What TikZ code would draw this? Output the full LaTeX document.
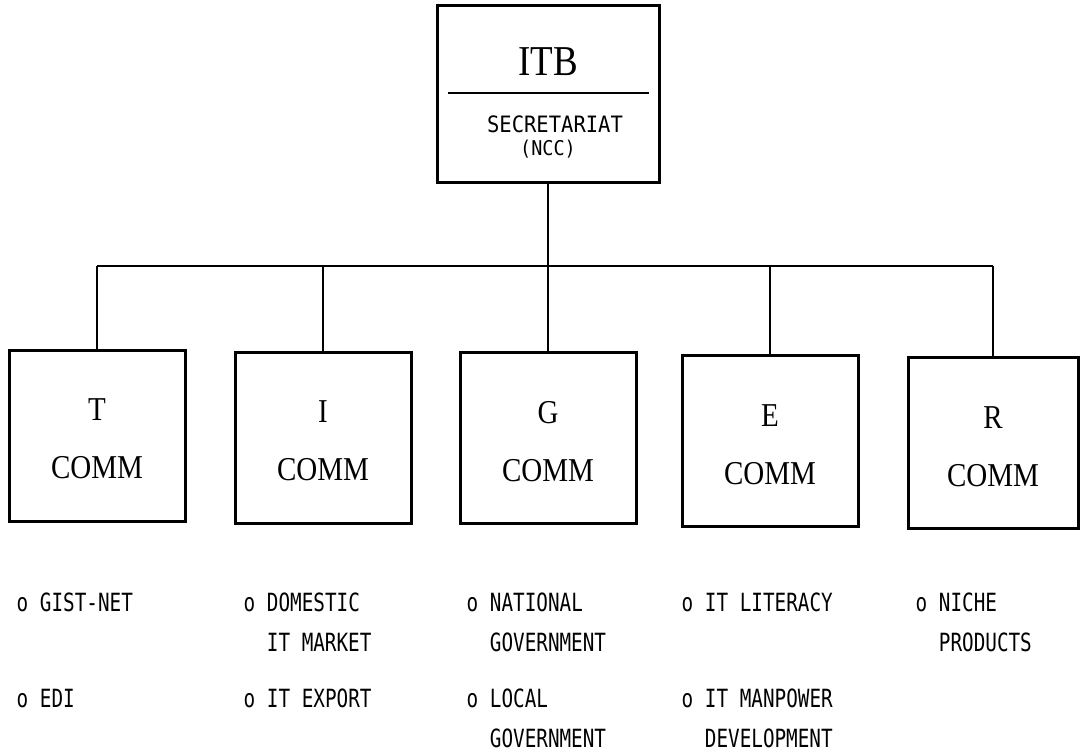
\documentclass[tikz,border=0pt]{standalone}
\usepackage{fontspec}
\usepackage{graphicx}
\setmainfont{Liberation Serif}
\newfontfamily\typefont{DejaVu Sans Mono}

% tall, narrow lettering used throughout the chart
\newcommand\tallser[1]{\scalebox{1}[1.15]{#1}}
\newcommand\talltype[1]{\scalebox{1}[1.3]{#1}}

\tikzset{
  frame/.style={draw, line width=3pt, inner sep=0pt},
  comm/.style={frame, minimum width=176pt, minimum height=171pt},
  link/.style={line width=2pt},
  serif/.style={anchor=base, inner sep=0pt, font=\fontsize{29}{29}\selectfont},
  item/.style={anchor=base west, inner sep=0pt, font=\typefont\fontsize{19.3}{20}\selectfont},
  secr/.style={anchor=base, inner sep=0pt, font=\typefont\fontsize{20.5}{21}\selectfont},
}

\begin{document}
\begin{tikzpicture}[x=1pt, y=-1pt]
\useasboundingbox (0,0) rectangle (1081,755);

% ---- board ----
\node[frame, minimum width=222pt, minimum height=177pt] (itb) at (548,93.5) {};
\node[anchor=base, inner sep=0pt, font=\fontsize{37}{37}\selectfont] (itbname) at (548,75) {\tallser{ITB}};
\coordinate (divL) at (448,93);
\coordinate (divR) at (649,93);
\draw[link] (divL) -- (divR);
\node[secr] (secname) at (555,132) {\scalebox{1}[1.1]{SECRETARIAT}};
\node[secr, font=\typefont\fontsize{18.5}{19}\selectfont] (ncc) at (548,155) {\scalebox{1}[1.1]{(NCC)}};

% ---- committees ----
\node[comm] (T) at (97,435.5) {};
\node[comm] (I) at (323,437.5) {};
\node[comm] (G) at (548,438) {};
\node[comm] (E) at (770,441) {};
\node[comm, minimum width=170pt] (R) at (993,443) {};

\foreach \n/\l in {T/T, I/I, G/G, E/E, R/R}{
  \node[serif] (\n let) at ([yshift=-72pt]\n.north) {\tallser{\l}};
  \node[serif] (\n word) at ([yshift=-130pt]\n.north) {\tallser{COMM}};
}

% ---- connectors ----
\coordinate (busL) at (97,266);
\coordinate (busR) at (993,266);
\draw[link] (busL) -- (busR);
\draw[link] (itb.south) -- (G.north);
\foreach \n in {T, I, E, R}{
  \draw[link] (\n.north) -- (\n.north |- busL);
}

% ---- duties of each committee ----
% T
\node[item] (t1) at (16.5,611) {\talltype{o GIST-NET}};
\node[item] (t2) at (16.5,707) {\talltype{o EDI}};
% I
\node[item] (i1) at (243.5,611) {\talltype{o DOMESTIC}};
\node[item] (i1b) at (266.7,651) {\talltype{IT MARKET}};
\node[item] (i2) at (243.5,707) {\talltype{o IT EXPORT}};
% G
\node[item] (g1) at (466.5,611) {\talltype{o NATIONAL}};
\node[item] (g1b) at (489.7,651) {\talltype{GOVERNMENT}};
\node[item] (g2) at (466.5,707) {\talltype{o LOCAL}};
\node[item] (g2b) at (489.7,747) {\talltype{GOVERNMENT}};
% E
\node[item] (e1) at (681.5,611) {\talltype{o IT LITERACY}};
\node[item] (e2) at (681.5,707) {\talltype{o IT MANPOWER}};
\node[item] (e2b) at (704.7,747) {\talltype{DEVELOPMENT}};
% R
\node[item] (r1) at (915.5,611) {\talltype{o NICHE}};
\node[item] (r1b) at (938.7,651) {\talltype{PRODUCTS}};
\end{tikzpicture}
\end{document}
